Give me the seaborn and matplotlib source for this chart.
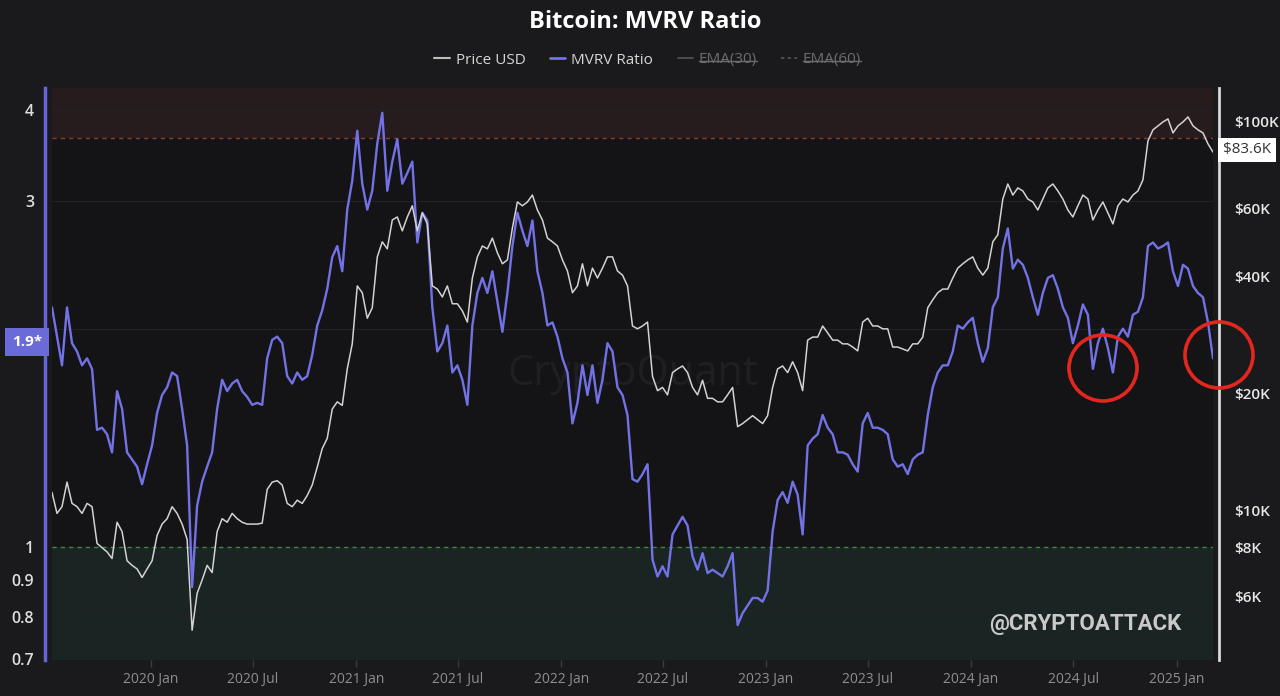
import numpy as np
import pandas as pd
import matplotlib
matplotlib.use("Agg")
import matplotlib.pyplot as plt
import matplotlib.dates as mdates
import seaborn as sns
from matplotlib.lines import Line2D
from matplotlib.patches import Ellipse
from matplotlib.ticker import FixedLocator, FixedFormatter, FuncFormatter, NullLocator

# ---- data (one point every ~9 days) ----
start_date = "2019-07-09"
end_date = "2025-03-07"

mvrv = [
    2.14, 1.95, 1.78, 2.14, 1.91, 1.86, 1.78, 1.82, 1.76, 1.45, 1.46, 1.43, 1.35, 1.64, 1.55,
    1.35, 1.32, 1.29, 1.22, 1.30, 1.38, 1.53, 1.62, 1.66, 1.74, 1.72, 1.55, 1.38, 0.88, 1.14,
    1.23, 1.29, 1.35, 1.55, 1.70, 1.64, 1.68, 1.70, 1.64, 1.61, 1.57, 1.58, 1.57, 1.82, 1.93,
    1.95, 1.91, 1.72, 1.68, 1.74, 1.70, 1.72, 1.84, 2.02, 2.12, 2.27, 2.51, 2.60,
    2.40, 2.92, 3.20, 3.75, 3.17, 2.92, 3.10, 3.60, 3.97, 3.10, 3.40, 3.65, 3.17, 3.28, 3.40,
    2.63, 2.89, 2.82, 2.14, 1.86, 1.91, 2.02, 1.74, 1.78, 1.70, 1.57, 2.02, 2.24, 2.35, 2.24,
    2.40, 2.18, 1.98, 2.24, 2.60, 2.89, 2.73, 2.60, 2.82, 2.40, 2.24, 2.02, 2.04, 1.95, 1.82,
    1.74, 1.48, 1.58, 1.78, 1.62, 1.78, 1.58, 1.70, 1.91, 1.86, 1.66, 1.62, 1.52,
    1.24, 1.23, 1.26, 1.30, 0.96, 0.91, 0.94, 0.91, 1.04, 1.07, 1.10, 1.07, 0.97, 0.93, 0.98,
    0.92, 0.93, 0.92, 0.91, 0.94, 0.98, 0.78, 0.81, 0.83, 0.85, 0.85, 0.84, 0.87, 1.05, 1.16,
    1.19, 1.15, 1.23, 1.18, 1.04, 1.38, 1.41, 1.43, 1.52, 1.46, 1.43, 1.35, 1.35, 1.34, 1.30,
    1.27, 1.48, 1.53, 1.46, 1.46, 1.45, 1.43, 1.32, 1.29, 1.30, 1.26, 1.32, 1.34,
    1.35, 1.52, 1.66, 1.74, 1.78, 1.78, 1.86, 2.02, 2.00, 2.04, 2.07, 1.91, 1.80, 1.88, 2.14,
    2.21, 2.58, 2.75, 2.42, 2.49, 2.45, 2.35, 2.21, 2.09, 2.24, 2.35, 2.37, 2.27, 2.14, 2.07,
    1.91, 2.02, 2.16, 2.09, 1.76, 1.91, 2.00, 1.88, 1.74, 1.95, 2.00, 1.95, 2.09, 2.11, 2.21,
    2.60, 2.63, 2.58, 2.60, 2.63, 2.40, 2.29, 2.45, 2.42, 2.29, 2.24, 2.21, 2.04, 1.82,
]

price_k = [
    11.1, 9.8, 10.2, 11.8, 10.4, 10.2, 9.8, 10.4, 10.2, 8.2, 8.0, 7.8, 7.5, 9.3, 8.8,
    7.4, 7.2, 7.05, 6.7, 7.05, 7.4, 8.6, 9.2, 9.5, 10.2, 9.8, 9.2, 8.4, 4.9, 6.1,
    6.6, 7.2, 6.9, 8.8, 9.5, 9.3, 9.8, 9.5, 9.3, 9.2, 9.2, 9.2, 9.25, 11.3, 11.8,
    11.9, 11.6, 10.4, 10.2, 10.6, 10.4, 10.9, 11.6, 12.9, 14.4, 15.3, 18.2, 19.0,
    18.6, 23.1, 26.8, 37.8, 36.3, 31.2, 33.2, 44.9, 49.1, 47.1, 55.9, 56.9, 52.4, 56.9, 60.8,
    52.4, 58.3, 54.6, 37.8, 37.1, 35.4, 37.8, 34.0, 34.0, 32.6, 30.5, 39.6, 44.9, 47.9, 47.1,
    50.2, 46.0, 43.1, 44.1, 53.3, 62.2, 60.8, 62.2, 64.8, 59.3, 55.9, 50.2, 49.1, 47.9, 44.1,
    41.3, 36.3, 37.8, 43.1, 37.8, 42.0, 39.6, 42.0, 44.9, 44.9, 41.3, 40.3, 37.8,
    29.8, 29.3, 29.8, 30.5, 22.1, 20.3, 20.7, 19.8, 22.6, 23.1, 23.5, 22.6, 20.7, 19.8, 21.6,
    19.4, 19.4, 19.0, 19.0, 19.8, 20.7, 16.4, 16.7, 17.1, 17.5, 17.1, 16.7, 17.5, 20.7, 23.1,
    23.5, 22.6, 24.1, 22.6, 20.3, 27.4, 27.9, 27.9, 29.8, 28.6, 27.4, 27.4, 26.8, 26.8, 26.3,
    25.7, 30.5, 31.2, 29.8, 29.8, 29.3, 29.3, 26.3, 26.3, 26.0, 25.7, 26.8, 26.8,
    27.9, 33.2, 34.8, 36.3, 37.1, 37.1, 39.6, 42.0, 43.1, 44.1, 44.9, 42.0, 40.3, 42.0, 49.1,
    51.2, 63.3, 69.2, 64.8, 67.6, 66.4, 63.3, 62.2, 59.3, 63.3, 67.6, 69.2, 66.4, 63.3, 59.3,
    56.9, 60.8, 64.8, 63.3, 55.9, 59.3, 62.2, 58.3, 54.6, 60.8, 63.3, 62.2, 64.8, 66.4, 70.9,
    89.3, 95.4, 97.7, 100.0, 101.8, 93.7, 97.7, 100.0, 103.0, 97.7, 95.4, 93.7, 87.8, 83.6,
]

mvrv_ticks = [0.7, 0.8, 0.9, 1, 3, 4]
mvrv_tick_labels = ["0.7", "0.8", "0.9", "1", "3", "4"]
mvrv_grid = [0.8, 0.9, 2, 3, 4]
price_ticks = [6000, 8000, 10000, 20000, 40000, 60000, 100000]
price_tick_labels = ["$6K", "$8K", "$10K", "$20K", "$40K", "$60K", "$100K"]

overheat_level = 3.66   # red dashed band
undervalue_level = 1.0  # green dashed band
last_mvrv_label = "1.9*"
last_price_label = "$83.6K"

legend_labels = ["Price USD", "MVRV Ratio", "EMA(30)", "EMA(60)"]

df = pd.DataFrame({
    "date": pd.date_range(start_date, end_date, periods=len(mvrv)),
    "mvrv": mvrv,
    "price": np.array(price_k) * 1000,
})

# ---- style ----
BG = "#1a1a1c"
PLOT_BG = "#141416"
BLUE = "#7272e6"
WHITE_LINE = "#d2d2d2"

sns.set_theme(style="dark")
plt.rcParams["font.family"] = ["Open Sans", "DejaVu Sans"]

fig = plt.figure(figsize=(12.8, 6.96), dpi=100, facecolor=BG)
ax = fig.add_axes([52 / 1280, 36 / 696, 1161 / 1280, 572 / 696])
ax.set_facecolor(PLOT_BG)

# zones
ax.axhspan(overheat_level, 5, color="#271c1d", zorder=0, lw=0)
ax.axhline(overheat_level, color="#8e3b2e", ls=(0, (3, 3)), lw=1, zorder=1)
ax.axhspan(0.6, undervalue_level, color="#1a2422", zorder=0, lw=0)
ax.axhline(undervalue_level, color="#3d8a3d", ls=(0, (3, 3)), lw=1, zorder=1)

sns.lineplot(data=df, x="date", y="mvrv", ax=ax, color=BLUE, linewidth=1.7, legend=False, zorder=3)
ax.set_yscale("log")
ax.set_ylim(0.698, 4.296)
ax.set_xlim(df["date"].iloc[0], df["date"].iloc[-1])

ax2 = ax.twinx()
sns.lineplot(data=df, x="date", y="price", ax=ax2, color=WHITE_LINE, linewidth=1.1, legend=False)
ax2.set_yscale("log")
ax2.set_ylim(4107, 122300)

# axes cosmetics
for a in (ax, ax2):
    a.set_xlabel("")
    a.set_ylabel("")
    for s in a.spines.values():
        s.set_visible(False)

ax.grid(False)
ax2.grid(False)
for t in mvrv_grid:
    ax.axhline(t, color="#222226", lw=0.8, zorder=0.5)

ax.spines["left"].set_visible(True)
ax.spines["left"].set_color("#6565d8")
ax.spines["left"].set_linewidth(2.5)
ax.spines["left"].set_position(("outward", 5))

ax2.spines["right"].set_visible(True)
ax2.spines["right"].set_color("#d8d8d8")
ax2.spines["right"].set_linewidth(2)
ax2.spines["right"].set_position(("outward", 4))

ax.yaxis.set_major_locator(FixedLocator(mvrv_ticks))
ax.yaxis.set_major_formatter(FixedFormatter(mvrv_tick_labels))
ax.yaxis.set_minor_locator(NullLocator())
ax.tick_params(axis="y", left=True, length=0, pad=8, labelsize=11.5, labelcolor="#dedede")
for lab in ax.get_yticklabels():
    lab.set_fontweight("semibold")

ax2.yaxis.set_major_locator(FixedLocator(price_ticks))
ax2.yaxis.set_major_formatter(FixedFormatter(price_tick_labels))
ax2.yaxis.set_minor_locator(NullLocator())
ax2.tick_params(axis="y", right=True, length=0, pad=11, labelsize=11, labelcolor="#e6e6e6")
for lab in ax2.get_yticklabels():
    lab.set_fontweight("semibold")

ax.xaxis.set_major_locator(mdates.MonthLocator(bymonth=[1, 7]))
ax.xaxis.set_major_formatter(FuncFormatter(lambda v, p: mdates.num2date(v).strftime("%Y %b")))
ax.tick_params(axis="x", bottom=True, length=5, width=1, color="#3a3a3e", pad=4,
               labelsize=10, labelcolor="#8e8e8e")

# watermarks
ax.text(0.5, 0.50, "CryptoQuant", transform=ax.transAxes, ha="center", va="center",
        fontsize=30, color="#1f1f23", zorder=0.6)
fig.text(1085 / 1280, 1 - 624 / 696, "@CRYPTOATTACK", ha="center", va="center",
         fontsize=16, fontweight="bold", color="#c9c9c9",
         family=["Roboto", "DejaVu Sans"])

# value badges
fig.text(27 / 1280, 1 - 342 / 696, last_mvrv_label, ha="center", va="center", color="white",
         fontsize=11, fontweight="bold",
         bbox=dict(boxstyle="square,pad=0.45", fc="#6a6ad8", ec="none"))
fig.text(1247 / 1280, 1 - 150 / 696, last_price_label, ha="center", va="center", color="#333333",
         fontsize=11, bbox=dict(boxstyle="square,pad=0.3", fc="white", ec="none"))

# red circles
for cx, cy in [(1103, 368), (1219, 355)]:
    fig.add_artist(Ellipse((cx / 1280, 1 - cy / 696), 68 / 1280, 66 / 696,
                           transform=fig.transFigure, fill=False, ec="#e3271f", lw=2.6))

# title + legend
fig.text(0.504, 1 - 22 / 696, "Bitcoin: MVRV Ratio", ha="center", va="center",
         fontsize=17, fontweight="bold", color="white")
handles = [
    Line2D([], [], color="#bdbdbd", lw=1.5),
    Line2D([], [], color=BLUE, lw=2),
    Line2D([], [], color="#555558", lw=1.2),
    Line2D([], [], color="#555558", lw=1.2, ls=(0, (2, 2))),
]
leg = fig.legend(handles, legend_labels, loc="center", bbox_to_anchor=(0.506, 1 - 60 / 696),
                 ncol=4, frameon=False, handlelength=1.0, handletextpad=0.4,
                 columnspacing=1.6, fontsize=11)
for i, t in enumerate(leg.get_texts()):
    t.set_color("#d6d6d6" if i < 2 else "#6c6c70")

fig.canvas.draw()
inv = fig.transFigure.inverted()
for t in leg.get_texts()[2:]:
    bb = t.get_window_extent()
    ymid = bb.y0 + bb.height * 0.42
    (x0, y0), (x1, _) = inv.transform([(bb.x0, ymid), (bb.x1, ymid)])
    fig.add_artist(Line2D([x0, x1], [y0, y0], transform=fig.transFigure, color="#6c6c70", lw=1))

fig.savefig("out.png", dpi=100, facecolor=BG)
